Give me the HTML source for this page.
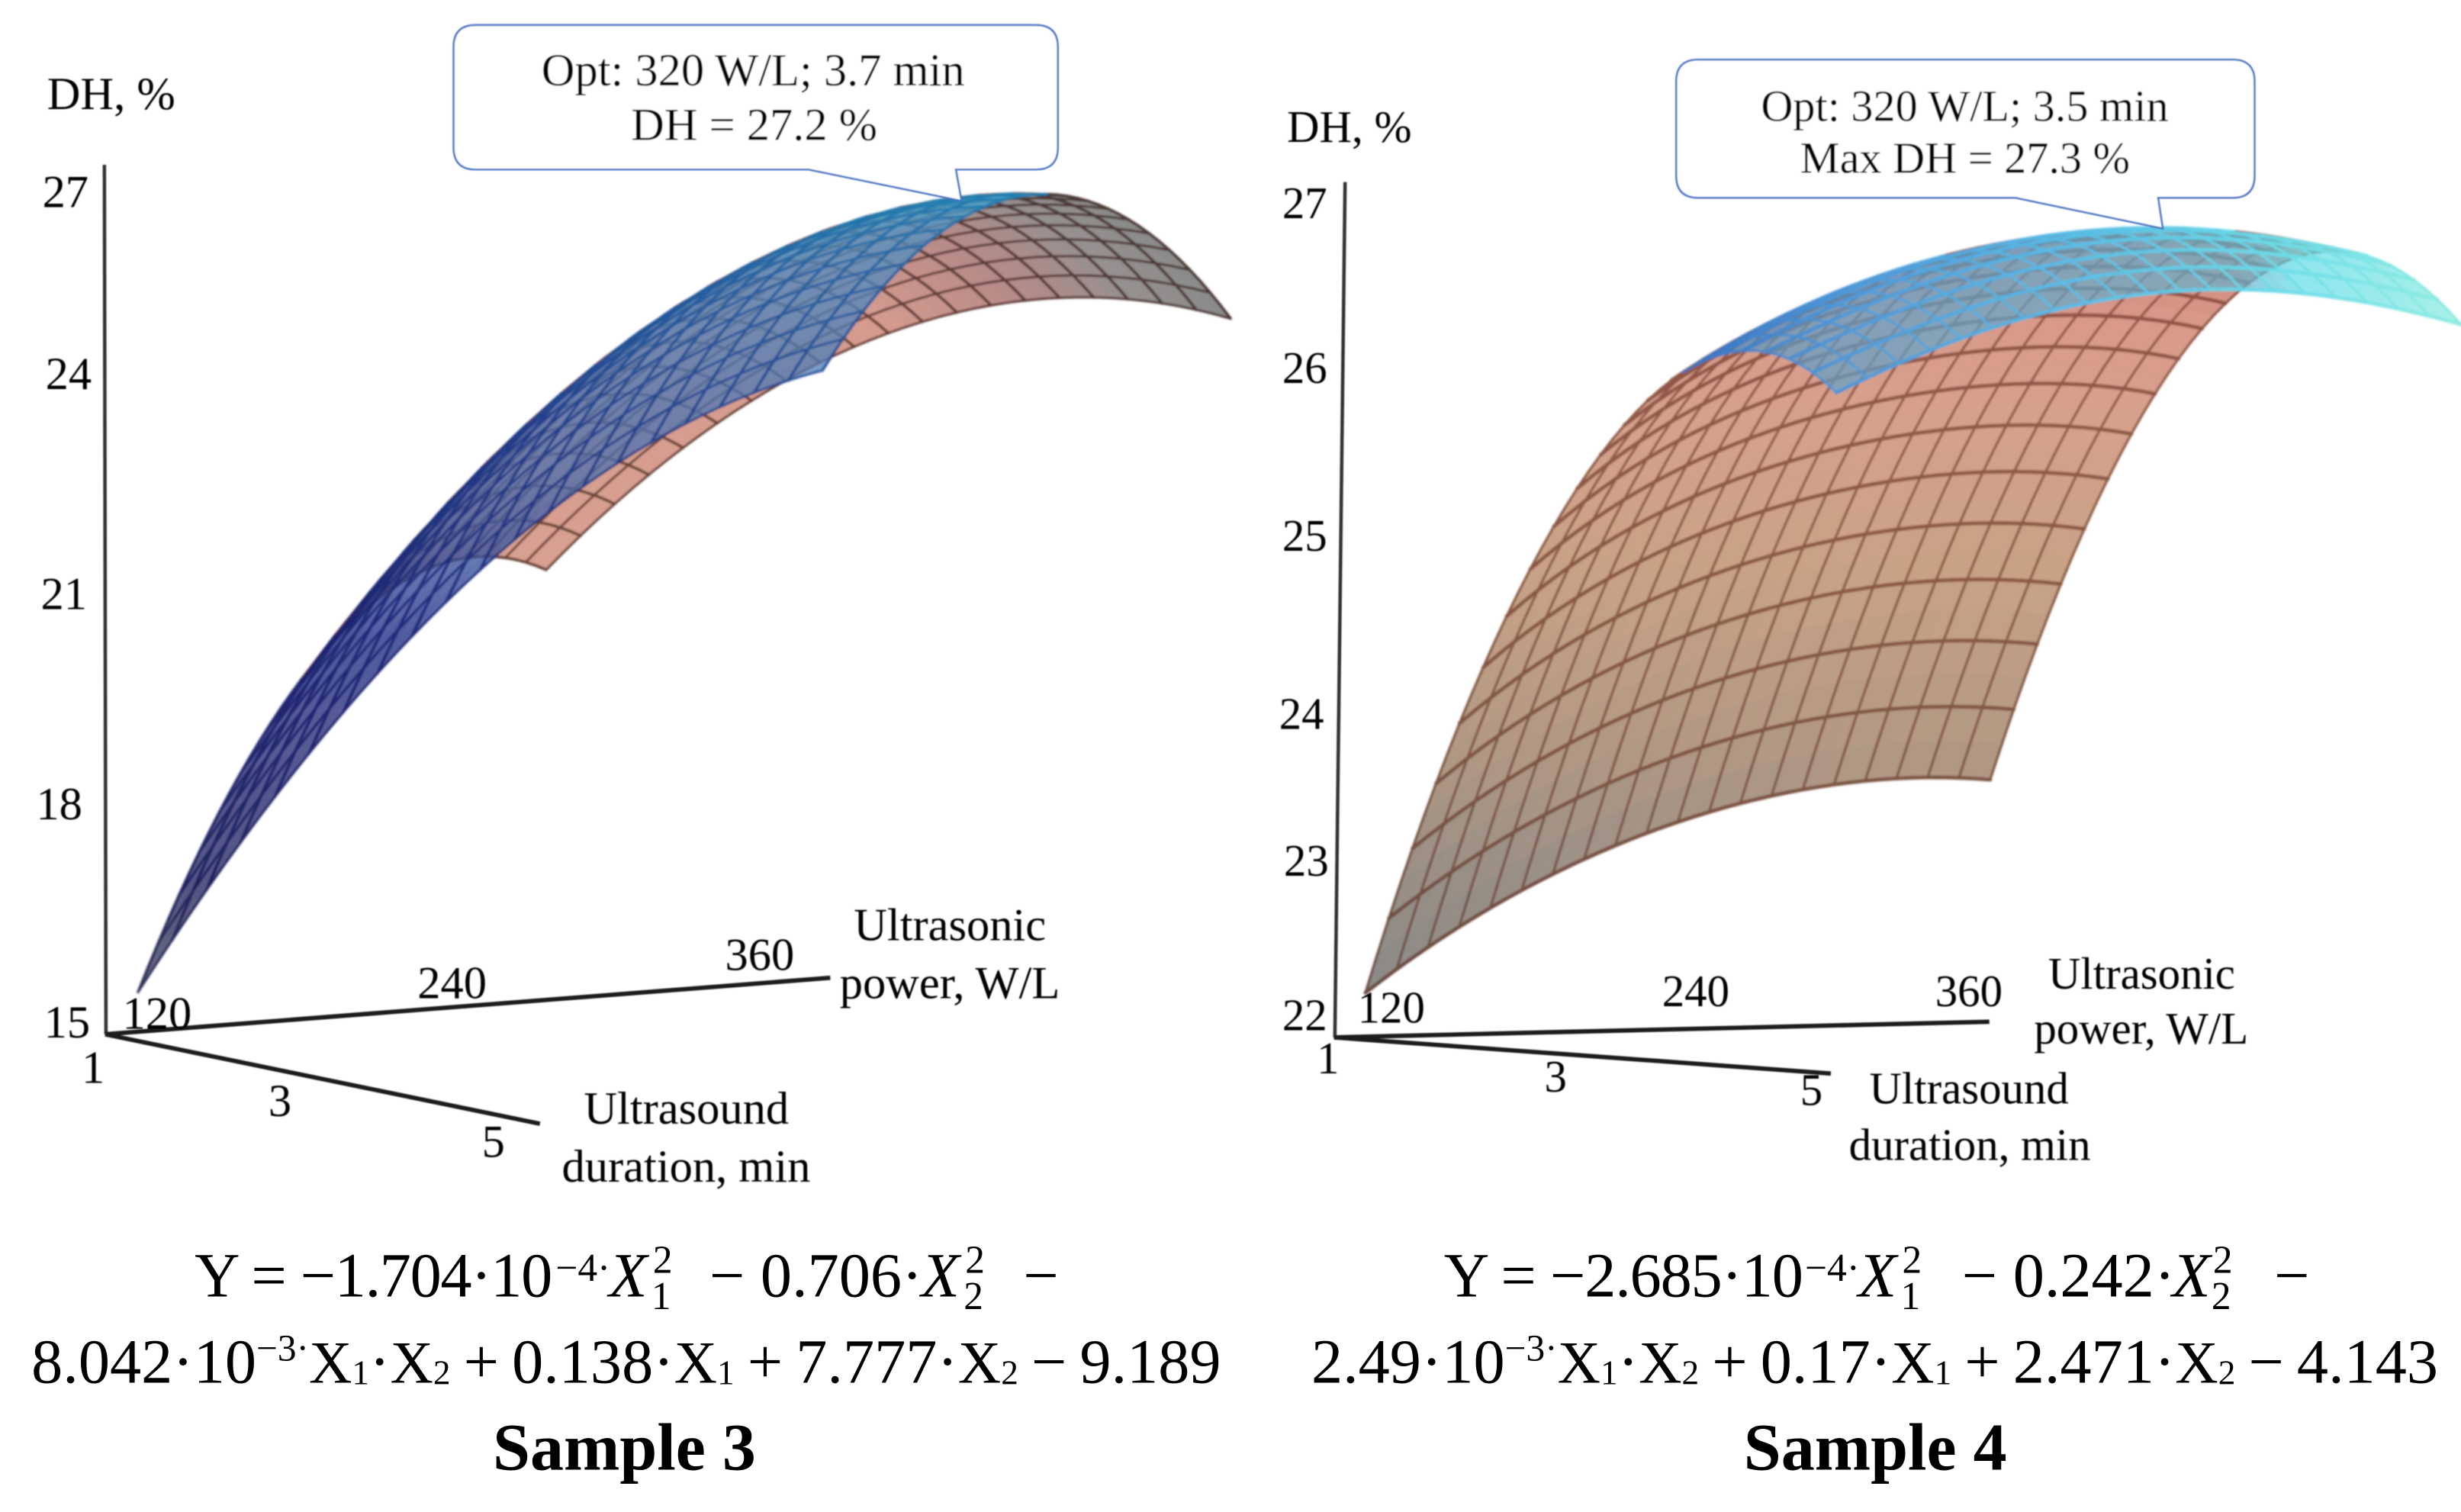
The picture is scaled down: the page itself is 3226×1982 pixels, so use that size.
<!DOCTYPE html>
<html lang="en">
<head>
<meta charset="utf-8">
<title>DH response surfaces for Sample 3 and Sample 4</title>
<style>
html,body{margin:0;padding:0;background:#fff;}
svg{display:block;width:3226px;height:1982px;}
text{font-family:"Liberation Serif","Noto Serif CJK SC",serif;fill:#000;}
.lbl{font-size:29.4px;}
.lbr{font-size:28.6px;}
.eq{font-size:40px;}
.ss{font-size:25px;}
.ttl{font-size:42.8px;font-weight:bold;}
.ix{font-size:40px;font-style:italic;}
.ln2{word-spacing:-1.7px;}
.ax{stroke:#1c1c1c;stroke-width:2.8;fill:none;stroke-linecap:butt;}
.zax{stroke:#333;stroke-width:2.2;fill:none;}
.call{fill:#fff;stroke:#4472c4;stroke-width:1.2;}
</style>
</head>
<body>
<svg id="fig" viewBox="0 0 1568 963.37" xmlns="http://www.w3.org/2000/svg">
  <defs>
    <filter id="soft" x="-5%" y="-5%" width="110%" height="110%"><feGaussianBlur stdDeviation="0.6"/></filter>
    <filter id="softer" x="-2%" y="-2%" width="104%" height="104%"><feGaussianBlur stdDeviation="0.35"/></filter>
  </defs>

  <g id="surface-s3" filter="url(#soft)"></g>
  <g id="surface-s4" filter="url(#soft)"></g>

  <!-- Sample 3 axes -->
  <g filter="url(#softer)">
    <line class="zax" x1="66.5" y1="105" x2="67.5" y2="659"/>
    <line class="ax" x1="67" y1="659" x2="529" y2="623"/>
    <line class="ax" x1="67" y1="659" x2="344" y2="716"/>
    <text class="lbl" x="30" y="69.5">DH, %</text>
    <text class="lbl" x="27" y="132">27</text>
    <text class="lbl" x="29" y="248">24</text>
    <text class="lbl" x="26" y="388">21</text>
    <text class="lbl" x="23" y="522">18</text>
    <text class="lbl" x="28" y="661">15</text>
    <text class="lbl" x="78" y="655.5">120</text>
    <text class="lbl" x="266" y="636">240</text>
    <text class="lbl" x="462" y="618">360</text>
    <text class="lbl" x="52" y="690">1</text>
    <text class="lbl" x="171" y="711">3</text>
    <text class="lbl" x="307" y="737">5</text>
    <text class="lbl" x="544" y="599">Ultrasonic</text>
    <text class="lbl" x="535" y="636">power, W/L</text>
    <text class="lbl" x="372" y="716">Ultrasound</text>
    <text class="lbl" x="358" y="753">duration, min</text>
  </g>

  <g filter="url(#softer)">
    <path class="call" d="M303,16 H660 Q674,16 674,30 V94 Q674,108 660,108 H609 L612.6,128 L515,108 H303 Q289,108 289,94 V30 Q289,16 303,16 Z"/>
    <text class="lbl" x="345" y="54.5">Opt: 320 W/L; 3.7 min</text>
    <text class="lbl" x="402" y="89.3">DH = 27.2 %</text>
  </g>

  <!-- Sample 4 axes -->
  <g filter="url(#softer)">
    <line class="zax" x1="857" y1="116" x2="850.5" y2="661"/>
    <line class="ax" x1="850" y1="661" x2="1267.5" y2="651"/>
    <line class="ax" x1="850" y1="661" x2="1166.5" y2="684"/>
    <text class="lbr" x="820" y="90.5">DH, %</text>
    <text class="lbr" x="817" y="139">27</text>
    <text class="lbr" x="817" y="244">26</text>
    <text class="lbr" x="817" y="351">25</text>
    <text class="lbr" x="815" y="464.5">24</text>
    <text class="lbr" x="818" y="558">23</text>
    <text class="lbr" x="817" y="656.5">22</text>
    <text class="lbr" x="865" y="651.5">120</text>
    <text class="lbr" x="1059" y="641">240</text>
    <text class="lbr" x="1233" y="641">360</text>
    <text class="lbr" x="839" y="684">1</text>
    <text class="lbr" x="984" y="695.5">3</text>
    <text class="lbr" x="1147" y="704">5</text>
    <text class="lbr" x="1305" y="630">Ultrasonic</text>
    <text class="lbr" x="1296" y="665">power, W/L</text>
    <text class="lbr" x="1191" y="703">Ultrasound</text>
    <text class="lbr" x="1178" y="739">duration, min</text>
  </g>

  <g filter="url(#softer)">
    <path class="call" d="M1082,38 H1422.5 Q1436.5,38 1436.5,52 V112 Q1436.5,126 1422.5,126 H1375 L1378,145.6 L1284,126 H1082 Q1068,126 1068,112 V52 Q1068,38 1082,38 Z"/>
    <text style="font-size:28.3px" x="1122" y="77">Opt: 320 W/L; 3.5 min</text>
    <text style="font-size:28.3px" x="1147" y="110">Max DH = 27.3 %</text>
  </g>

  <!-- Sample 3 equation -->
  <g>
    <text class="eq" x="124" y="826" textLength="228">Y = −1.704·10</text>
    <text class="ss" x="354" y="816">−4·</text>
    <text class="ix" x="388" y="826">X</text>
    <text class="ss" x="416" y="811">2</text>
    <text class="ss" x="415" y="834">1</text>
    <text class="eq" x="452" y="826">− 0.706·</text>
    <text class="ix" x="587" y="826">X</text>
    <text class="ss" x="615" y="811">2</text>
    <text class="ss" x="614" y="834">2</text>
    <text class="eq" x="652" y="826">−</text>
    <text class="eq ln2" x="20" y="881">8.042·10<tspan font-size="24" dy="-14">−3·</tspan><tspan font-size="38" dy="14">X</tspan><tspan font-size="22" dy="1">1</tspan><tspan dy="-1">·</tspan><tspan font-size="38">X</tspan><tspan font-size="22" dy="1">2</tspan><tspan dy="-1"> + 0.138·</tspan><tspan font-size="38">X</tspan><tspan font-size="22" dy="1">1</tspan><tspan dy="-1"> + 7.777·</tspan><tspan font-size="38">X</tspan><tspan font-size="22" dy="1">2</tspan><tspan dy="-1"> − 9.189</tspan></text>
    <text class="ttl" x="314" y="936.5">Sample 3</text>
  </g>

  <!-- Sample 4 equation -->
  <g>
    <text class="eq" x="920" y="826" textLength="229">Y = −2.685·10</text>
    <text class="ss" x="1150" y="816">−4·</text>
    <text class="ix" x="1184" y="826">X</text>
    <text class="ss" x="1212" y="811">2</text>
    <text class="ss" x="1211" y="834">1</text>
    <text class="eq" x="1250" y="826">− 0.242·</text>
    <text class="ix" x="1384" y="826">X</text>
    <text class="ss" x="1410" y="811">2</text>
    <text class="ss" x="1409" y="834">2</text>
    <text class="eq" x="1449" y="826">−</text>
    <text class="eq ln2" x="835.5" y="881">2.49·10<tspan font-size="24" dy="-14">−3·</tspan><tspan font-size="38" dy="14">X</tspan><tspan font-size="22" dy="1">1</tspan><tspan dy="-1">·</tspan><tspan font-size="38">X</tspan><tspan font-size="22" dy="1">2</tspan><tspan dy="-1"> + 0.17·</tspan><tspan font-size="38">X</tspan><tspan font-size="22" dy="1">1</tspan><tspan dy="-1"> + 2.471·</tspan><tspan font-size="38">X</tspan><tspan font-size="22" dy="1">2</tspan><tspan dy="-1"> − 4.143</tspan></text>
    <text class="ttl" x="1111" y="936.5">Sample 4</text>
  </g>
</svg>

<script>
// Chart data: ultrasonic power (W/L) and ultrasound duration (min) levels.
const powerLevels = [120, 180, 240, 300, 360];
const durationLevels = [1, 2, 3, 4, 5];

// Sample 3: DH (%) across durationLevels at each power level.
const s3Dh120 = [15.43, 18.88, 21.53, 23.37, 24.41];
const s3Dh180 = [18.58, 21.69, 24.01, 25.51, 26.22];
const s3Dh240 = [20.64, 23.42, 25.40, 26.58, 26.94];
const s3Dh300 = [21.63, 24.07, 25.72, 26.56, 26.59];
const s3Dh360 = [21.53, 23.65, 24.95, 25.46, 25.16];

// Sample 4: DH (%) across durationLevels at each power level.
const s4Dh120 = [22.14, 24.14, 25.45, 26.06, 25.83];
const s4Dh180 = [22.77, 24.79, 26.04, 26.52, 26.23];
const s4Dh240 = [23.19, 25.16, 26.35, 26.78, 26.44];
const s4Dh300 = [23.42, 25.33, 26.47, 26.84, 26.44];
const s4Dh360 = [23.45, 25.30, 26.38, 26.70, 26.25];

const s3Rows = [s3Dh120, s3Dh180, s3Dh240, s3Dh300, s3Dh360];
const s4Rows = [s4Dh120, s4Dh180, s4Dh240, s4Dh300, s4Dh360];

const SVGNS = 'http://www.w3.org/2000/svg';
const FINE = 40;    // fill cells per side
const MESH = 2;     // fine cells per mesh division (20 divisions)

function hex(c) { return [parseInt(c.slice(1,3),16), parseInt(c.slice(3,5),16), parseInt(c.slice(5,7),16)]; }
function mix(a, b, t) {
  const A = hex(a), B = hex(b);
  const r = A.map((v, i) => Math.round(v + (B[i] - v) * t));
  return '#' + r.map(v => v.toString(16).padStart(2, '0')).join('');
}
function ramp(stops, t) {
  if (t <= stops[0][0]) return stops[0][1];
  for (let i = 1; i < stops.length; i++) {
    if (t <= stops[i][0]) {
      const k = (t - stops[i-1][0]) / (stops[i][0] - stops[i-1][0]);
      return mix(stops[i-1][1], stops[i][1], k);
    }
  }
  return stops[stops.length - 1][1];
}
function clamp01(t) { return Math.max(0, Math.min(1, t)); }
function weights(levels, val) {
  return levels.map((a, i) => levels.reduce((w, b, j) => j === i ? w : w * (val - b) / (a - b), 1));
}
function dhAt(rows, p, d) {
  const wp = weights(powerLevels, p), wd = weights(durationLevels, d);
  let s = 0;
  rows.forEach((r, i) => r.forEach((z, j) => { s += wp[i] * wd[j] * z; }));
  return s;
}

const s3Chart = {
  rows: s3Rows, groupId: 'surface-s3', prefix: 's3',
  x0: 88, xPower: 260, xDuration: 436,
  zBase: 15, yBase: 651, zPx: 44.1,
  backOpacity: 0.76, backLineOpacity: 0.85,
  lineWidthP: 1.5, lineWidthD: 1.8,
  frontColor: (u, v, t) => ramp([[0,'#d8a090'],[0.5,'#d59b8e'],[0.7,'#b58a86'],[0.85,'#989090'],[1,'#8a8a8a']], v),
  frontLine: c => mix(c, '#240400', 0.62),
  backRaw: (t, xn) => ramp([[0,'#383c54'],[0.15,'#20205f'],[0.45,'#1e2a84'],[0.7,'#2450ac'],[0.9,'#2a8ad0'],[1,'#2ab8e8']], t),
  backFill: (raw, s, t, xn) => mix(raw, '#6f8cb4', 0.6 * s * clamp01((t - 0.45) / 0.2)),
  backLine: raw => mix(raw, '#0c0c48', 0.35)
};
const s4Chart = {
  rows: s4Rows, groupId: 'surface-s4', prefix: 's4',
  x0: 870, xPower: 398, xDuration: 300,
  zBase: 22, yBase: 647, zPx: 103.6,
  backOpacity: 0.7, backLineOpacity: 0.92,
  lineWidthP: 1.6, lineWidthD: 2.4,
  frontColor: (u, v, t) => ramp([[0,'#8a8a88'],[0.15,'#9a8f85'],[0.3,'#b09884'],[0.55,'#c9a286'],[0.75,'#d6a18c'],[0.87,'#d99a8a'],[1,'#cf7f76']], t),
  frontLine: c => mix(c, '#4a1000', 0.5),
  backRaw: (t, xn) => ramp([[0.28,'#1f5fb8'],[0.45,'#3a8fd8'],[0.65,'#45b8e8'],[0.82,'#58d8e8'],[1,'#82eade']], xn),
  backFill: (raw, s, t, xn) => mix(raw, '#6fa8c4', 0.75 * s * (xn < 0.8 ? 1 : clamp01(1 - (xn - 0.8) / 0.05))),
  backLine: raw => mix(raw, '#ffffff', 0.1)
};

function xAxis(c, p, d) {
  const u = (p - powerLevels[0]) / (powerLevels[powerLevels.length - 1] - powerLevels[0]);
  const v = (d - durationLevels[0]) / (durationLevels[durationLevels.length - 1] - durationLevels[0]);
  return c.x0 + c.xPower * u + c.xDuration * v;
}
function yAxis(c, z) { return c.yBase - c.zPx * (z - c.zBase); }

function drawSurface(c) {
  const host = document.getElementById(c.groupId);
  const pMin = powerLevels[0], pMax = powerLevels[powerLevels.length - 1];
  const dMin = durationLevels[0], dMax = durationLevels[durationLevels.length - 1];
  const zs = c.rows.flat();
  const zLo = Math.min.apply(null, zs.concat([c.zBase])), zHi = Math.max.apply(null, zs);
  const pts = [];
  for (let i = 0; i <= FINE; i++) {
    pts.push([]);
    for (let j = 0; j <= FINE; j++) {
      const p = pMin + (pMax - pMin) * i / FINE, d = dMin + (dMax - dMin) * j / FINE;
      const z = dhAt(c.rows, p, d);
      pts[i].push({ x: xAxis(c, p, d), y: yAxis(c, z), z: z });
    }
  }
  function areaOf(i, j) {
    const a = pts[i][j], b = pts[i+1][j], e = pts[i+1][j+1], f = pts[i][j+1];
    return (a.x*b.y - b.x*a.y) + (b.x*e.y - e.x*b.y) + (e.x*f.y - f.x*e.y) + (f.x*a.y - a.x*f.y);
  }
  function sideOf(i, j) { return areaOf(i, j) > 0 ? 'back' : 'front'; }
  let maxBack = 1;
  for (let i = 0; i < FINE; i++) for (let j = 0; j < FINE; j++) maxBack = Math.max(maxBack, areaOf(i, j));
  function shade(i, j) {
    const t = (pts[i][j].z - zLo) / (zHi - zLo);
    const xn = ((i + 0.5) / FINE * c.xPower + (j + 0.5) / FINE * c.xDuration) / (c.xPower + c.xDuration);
    return { t: t, xn: xn, raw: c.backRaw(t, xn), s: clamp01(2.2 * Math.abs(areaOf(i, j)) / maxBack) };
  }
  function colorOf(side, i, j) {
    const u = (i + 0.5) / FINE, v = (j + 0.5) / FINE;
    const sh = shade(i, j);
    return side === 'back' ? c.backFill(sh.raw, sh.s, sh.t, sh.xn) : c.frontColor(u, v, sh.t);
  }
  function lineColorOf(side, i, j) {
    const u = (i + 0.5) / FINE, v = (j + 0.5) / FINE;
    const sh = shade(i, j);
    return side === 'back' ? c.backLine(sh.raw) : c.frontLine(c.frontColor(u, v, sh.t));
  }
  function layer(name, op) {
    const g = document.createElementNS(SVGNS, 'g');
    
    
    if (op < 1) g.setAttribute('opacity', op);
    host.appendChild(g);
    return g;
  }
  const frontFill = layer('underside-fill', 1);
  const frontLines = layer('underside-mesh', 1);
  const backFill = layer('topside-fill', c.backOpacity);
  const backLines = layer('topside-mesh', c.backLineOpacity);

  for (let i = 0; i < FINE; i++) {
    for (let j = 0; j < FINE; j++) {
      const side = sideOf(i, j);
      const col = colorOf(side, i, j);
      const q = [pts[i][j], pts[i+1][j], pts[i+1][j+1], pts[i][j+1]];
      const poly = document.createElementNS(SVGNS, 'polygon');
      poly.setAttribute('points', q.map(o => o.x.toFixed(2) + ',' + o.y.toFixed(2)).join(' '));
      poly.setAttribute('fill', col);
      poly.setAttribute('stroke', col);
      poly.setAttribute('stroke-width', '0.5');
      
      
      (side === 'back' ? backFill : frontFill).appendChild(poly);
    }
  }
  function addSegment(a, b, side, col, w) {
    const ln = document.createElementNS(SVGNS, 'line');
    ln.setAttribute('x1', a.x.toFixed(2));
    ln.setAttribute('y1', a.y.toFixed(2));
    ln.setAttribute('x2', b.x.toFixed(2));
    ln.setAttribute('y2', b.y.toFixed(2));
    ln.setAttribute('stroke', col);
    ln.setAttribute('stroke-width', w);
    ln.setAttribute('stroke-linecap', 'round');
    
    
    (side === 'back' ? backLines : frontLines).appendChild(ln);
  }
  for (let i = 0; i <= FINE; i += MESH) {
    for (let j = 0; j < FINE; j++) {
      const ci = Math.min(i, FINE - 1);
      const side = sideOf(ci, j);
      addSegment(pts[i][j], pts[i][j+1], side, lineColorOf(side, ci, j), c.lineWidthP);
    }
  }
  for (let j = 0; j <= FINE; j += MESH) {
    for (let i = 0; i < FINE; i++) {
      const cj = Math.min(j, FINE - 1);
      const side = sideOf(i, cj);
      addSegment(pts[i][j], pts[i+1][j], side, lineColorOf(side, i, cj), c.lineWidthD);
    }
  }
}
drawSurface(s3Chart);
drawSurface(s4Chart);
</script>
</body>
</html>
